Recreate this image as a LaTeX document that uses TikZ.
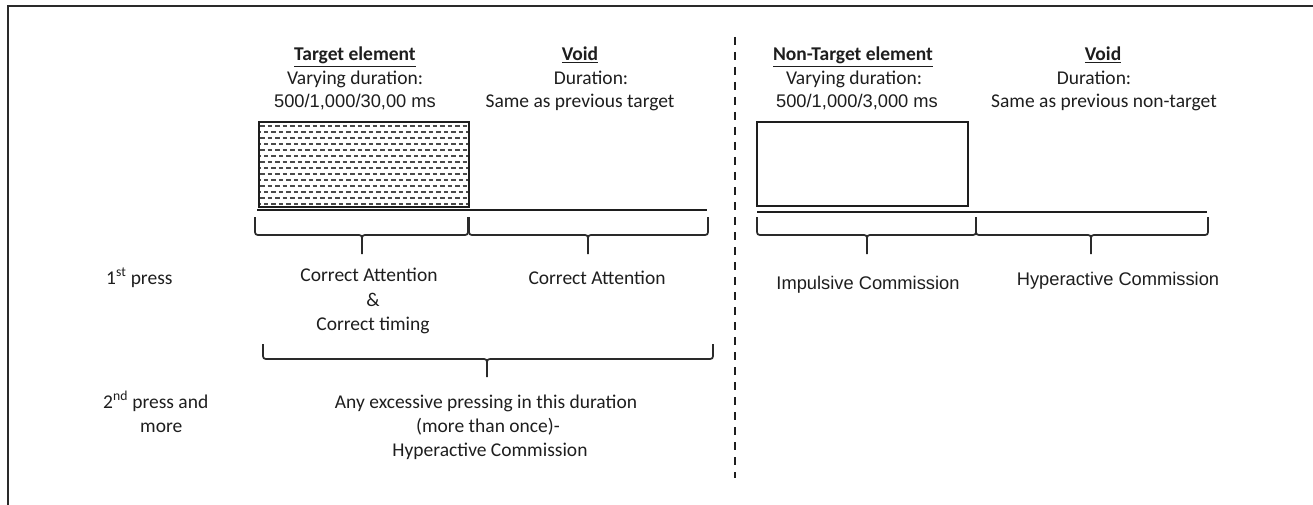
\documentclass[tikz,border=0pt]{standalone}
\usepackage{fontspec}
\setmainfont{Carlito}
\newfontfamily\arialf{Liberation Sans}
\definecolor{ink}{HTML}{1E1E1E}
\definecolor{lin}{HTML}{2A2A2A}
\newcommand\mybrace[6]{%
  \draw[brc] (#1,#4) -- (#1,#5-6) .. controls (#1,#5) .. (#1+6,#5) -- (#3-6,#5) .. controls (#3,#5) .. (#3,#5+6) -- (#3,#6);
  \draw[brc] (#3,#5+6) .. controls (#3,#5) .. (#3+6,#5) -- (#2-6,#5) .. controls (#2,#5) .. (#2,#5-6) -- (#2,#4);}
\begin{document}
\begin{tikzpicture}[x=1pt,y=-1pt,
  cal/.style={font=\fontsize{19.5}{23}\selectfont, inner sep=0pt, anchor=base, text=ink},
  ttl/.style={font=\bfseries\fontsize{19.5}{23}\selectfont, inner sep=0pt, anchor=base, text=ink},
  ari/.style={font=\arialf\fontsize{18.3}{22}\selectfont, inner sep=0pt, anchor=base, text=ink},
  brc/.style={draw=lin, line width=1.7pt, line join=round},
  hatch/.style={draw=lin!85, line width=1.4pt, dash pattern=on 4.5pt off 3pt},
  frame/.style={draw=lin, line width=2pt},
  axis/.style={draw=ink, line width=2.8pt},
  boxline/.style={draw=ink, line width=1.7pt}]
\useasboundingbox (0,0) rectangle (1313,505);
\fill[white] (0,0) rectangle (1313,505);
% frame
\draw[frame] (7.5,505) -- (7.5,6.5) -- (1313,6.5);
% separator
\draw[draw=ink, line width=2.4pt, dash pattern=on 8pt off 7pt] (735,37) -- (735,478);

% ---------- left panel ----------
\node[ttl] (t1) at (355,61) {\underline{Target element}};
\node[cal] (t1a) at (355,85) {Varying duration:};
\node[ari] (t1b) at (355,108) {500/1,000/30,00 ms};
\node[ttl] (v1) at (580,61) {\underline{Void}};
\node[cal] (v1a) at (591,85) {Duration:};
\node[cal] (v1b) at (580,108) {Same as previous target};

\begin{scope}
\clip (259,122) rectangle (469,207);
\foreach \r in {0,2,...,12} {\draw[hatch] (260,126+\r*6) -- (468,126+\r*6);}
\foreach \r in {1,3,...,13} {\draw[hatch, dash phase=3.7pt] (260,126+\r*6) -- (468,126+\r*6);}
\end{scope}
\draw[boxline] (259,122) rectangle (469,207);
\draw[axis] (257,210) -- (707,210);

\mybrace{255}{468}{362}{217}{235}{254}
\mybrace{469}{708}{588}{217}{235}{254}
\mybrace{263}{713}{487}{344}{359}{377}

\node[cal, anchor=base west] (p1) at (106,284) {1\textsuperscript{st} press};
\node[cal] (ca1) at (369,281) {Correct Attention};
\node[cal] (amp) at (373,306) {\&};
\node[cal] (ct) at (373,330) {Correct timing};
\node[cal] (ca2) at (597,284) {Correct Attention};

\node[cal, anchor=base west] (p2) at (103,408) {2\textsuperscript{nd} press and};
\node[cal, anchor=base west] (p2b) at (140,432) {more};
\node[cal] (ex1) at (486,408) {Any excessive pressing in this duration};
\node[cal] (ex2) at (488,432) {(more than once)-};
\node[cal] (ex3) at (490,456) {Hyperactive Commission};

% ---------- right panel ----------
\node[ttl] (t2) at (853,61) {\underline{Non-Target element}};
\node[cal] (t2a) at (854,85) {Varying duration:};
\node[ari] (t2b) at (857,108) {500/1,000/3,000 ms};
\node[ttl] (v2) at (1103,61) {\underline{Void}};
\node[cal] (v2a) at (1094,85) {Duration:};
\node[cal] (v2b) at (1104,108) {Same as previous non-target};

\draw[boxline] (757,122) rectangle (968,206);
\draw[axis] (757,212) -- (1207,212);

\mybrace{757}{976}{867}{217}{235}{254}
\mybrace{976}{1208}{1091}{217}{235}{254}

\node[ari] (ic) at (868,289) {Impulsive Commission};
\node[ari] (hc) at (1118,285) {Hyperactive Commission};
\end{tikzpicture}
\end{document}
